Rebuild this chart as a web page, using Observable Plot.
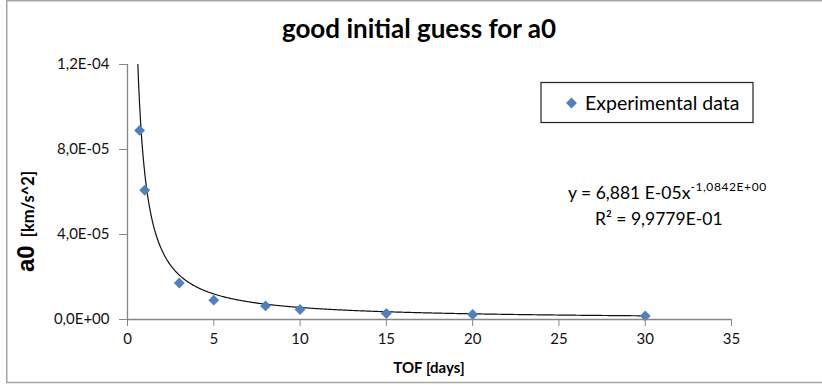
<!DOCTYPE html>
<html>
<head>
<meta charset="utf-8">
<script src="https://cdn.jsdelivr.net/npm/d3@7"></script>
<script src="https://cdn.jsdelivr.net/npm/@observablehq/plot@0.6"></script>
<style>
  html, body { margin: 0; padding: 0; background: #fff; }
  #chart { position: relative; width: 822px; height: 385px; overflow: hidden; }
</style>
</head>
<body>
<div id="chart"></div>
<script>
// Measured thrust acceleration a0 against time of flight
const tofDays = [0.7, 1, 3, 5, 8, 10, 15, 20, 30];
const a0Values = [8.9e-5, 6.08e-5, 1.72e-5, 9.1e-6, 6.4e-6, 4.7e-6, 2.8e-6, 2.35e-6, 1.7e-6];

// Axis ticks
const xTicks = [0, 5, 10, 15, 20, 25, 30, 35];
const yTicks = [0, 4e-5, 8e-5, 1.2e-4];

// Power-law trendline y = c * x^k and its coefficient of determination
const fitCoefficient = 6.881e-5;
const fitExponent = -1.0842;
const rSquared = 0.99779;

// Text
const titleText = "good initial guess for a0";
const xTitle = "TOF [days]";
const yTitleMain = "a0";
const yTitleUnit = "[km/s^2]";
const seriesName = "Experimental data";

const pointColor = "#4f81bd";
const axisColor = "#868686";
const font = "Lato, 'Open Sans', sans-serif";

// Spreadsheet-style scientific notation: 1,2E-04
function excelSci(v, decimals) {
  const [m, e] = v.toExponential(decimals).split("e");
  const exp = +e;
  return m.replace(".", ",") + "E" + (exp < 0 ? "-" : "+") + String(Math.abs(exp)).padStart(2, "0");
}

const points = tofDays.map((t, i) => ({tof: t, a0: a0Values[i]}));
const trend = d3.range(0.4, 30.0001, 0.05).map(t => ({tof: t, a0: fitCoefficient * Math.pow(t, fitExponent)}));

const W = 822, H = 385;
const svg = Plot.plot({
  width: W,
  height: H,
  marginLeft: 127,
  marginRight: 91,
  marginTop: 64,
  marginBottom: 66,
  style: {fontFamily: font, fontSize: "15px", color: "#111", background: "#fff"},
  x: {domain: [0, 35], ticks: xTicks, label: null},
  y: {domain: [0, 1.2e-4], ticks: yTicks, label: null},
  marks: [
    Plot.line(trend, {x: "tof", y: "a0", stroke: "#111", strokeWidth: 1.2, clip: true}),
    Plot.dot(points, {x: "tof", y: "a0", symbol: "diamond2", r: 4.9, fill: pointColor, stroke: "none"}),
    Plot.ruleX([0], {stroke: axisColor, strokeWidth: 1.3}),
    Plot.ruleY([0], {stroke: axisColor, strokeWidth: 1.3}),
    Plot.axisX({ticks: xTicks, tickSize: 7, tickPadding: 7, stroke: axisColor, strokeOpacity: 1, tickFormat: d => String(d), fill: "#111", fontSize: 15}),
    Plot.axisY({ticks: yTicks, tickSize: 8, tickPadding: 10, stroke: axisColor, strokeOpacity: 1, tickFormat: d => excelSci(d, 1), fill: "#111", fontSize: 15})
  ]
});
document.getElementById("chart").appendChild(svg);

const g = d3.select(svg).append("g").attr("text-anchor", "start");

// Chart border
g.append("rect")
  .attr("x", 6.75).attr("y", 0.75).attr("width", 840).attr("height", 381.75)
  .attr("fill", "none").attr("stroke", "#a5a5a5").attr("stroke-width", 1.5);

// Title
g.append("text").attr("x", 419).attr("y", 38)
  .attr("text-anchor", "middle").attr("font-family", font).attr("font-weight", "bold")
  .attr("font-size", 26).attr("fill", "#000").text(titleText);

// X axis title
g.append("text").attr("x", 429).attr("y", 373)
  .attr("text-anchor", "middle").attr("font-family", font).attr("font-weight", "bold")
  .attr("font-size", 15).attr("fill", "#000").text(xTitle);

// Y axis title
const yt = g.append("text").attr("transform", "translate(34,272) rotate(-90)")
  .attr("text-anchor", "start").attr("font-weight", "bold").attr("fill", "#000");
yt.append("tspan").attr("font-family", "'Liberation Sans', Arial, sans-serif").attr("font-size", 24).text(yTitleMain);
yt.append("tspan").attr("dx", 8).attr("font-family", font).attr("font-size", 16.5).text(yTitleUnit);

// Legend
g.append("rect").attr("x", 541).attr("y", 82.5).attr("width", 212).attr("height", 40)
  .attr("fill", "#fff").attr("stroke", "#222").attr("stroke-width", 1.2);
g.append("path").attr("transform", "translate(571.5,103)")
  .attr("d", d3.symbol(d3.symbolDiamond2, Math.PI * 4.9 * 4.9)()).attr("fill", pointColor);
g.append("text").attr("x", 585).attr("y", 109.5).attr("text-anchor", "start").attr("font-family", font)
  .attr("font-size", 19.5).attr("fill", "#000").text(seriesName);

// Trendline equation
const eq = g.append("text").attr("x", 568).attr("y", 199).attr("text-anchor", "start")
  .attr("font-family", font).attr("font-size", 17.5).attr("fill", "#000");
eq.append("tspan").text("y = " + excelSci(fitCoefficient, 3).replace("E", " E") + "x");
eq.append("tspan").attr("font-size", 12).attr("letter-spacing", 0.6).attr("dy", -8).text(excelSci(fitExponent, 4));
g.append("text").attr("x", 595).attr("y", 225).attr("text-anchor", "start")
  .attr("font-family", font).attr("font-size", 17.5).attr("fill", "#000")
  .text("R\u00B2 = " + excelSci(rSquared, 4));
</script>
</body>
</html>
